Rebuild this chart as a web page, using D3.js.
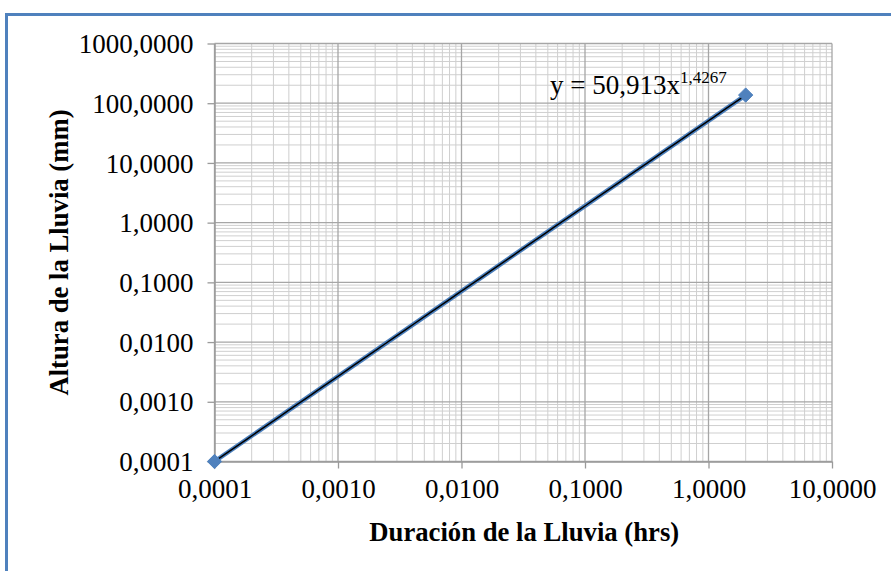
<!DOCTYPE html>
<html>
<head>
<meta charset="utf-8">
<script src="https://cdn.jsdelivr.net/npm/d3@7"></script>
<style>
  html, body { margin: 0; padding: 0; background: #fff; }
  svg { display: block; }
  text { font-family: "Liberation Serif", "Times New Roman", serif; fill: #000; }
</style>
</head>
<body>
<svg id="chart" width="891" height="571"></svg>
<script>
// Duración (hrs) vs. altura de lluvia (mm)
const duracion = [0.0001, 2];
const altura = [0.0001, 136.9];

// Ajuste potencial y = a·x^b
const coefA = 50.913;
const expB = 1.4267;
const coefALabel = "50,913";
const expBLabel = "1,4267";

const xTickValues = [0.0001, 0.001, 0.01, 0.1, 1, 10];
const xTickLabels = ["0,0001", "0,0010", "0,0100", "0,1000", "1,0000", "10,0000"];
const yTickValues = [0.0001, 0.001, 0.01, 0.1, 1, 10, 100, 1000];
const yTickLabels = ["0,0001", "0,0010", "0,0100", "0,1000", "1,0000", "10,0000", "100,0000", "1000,0000"];

const xTitle = "Duración de la Lluvia (hrs)";
const yTitle = "Altura de la Lluvia (mm)";

const svg = d3.select("#chart");
const W = 891, H = 571;
const plot = { left: 214.5, right: 832, top: 43.5, bottom: 461.5 };
const serif = "'Liberation Serif', 'Times New Roman', serif";

// Marco del gráfico
svg.append("rect")
  .attr("x", 6.5).attr("y", 14.5)
  .attr("width", W + 20).attr("height", H + 20)
  .attr("fill", "none")
  .attr("stroke", "#4f81bd")
  .attr("stroke-width", 3);

const x = d3.scaleLog().domain([0.0001, 10]).range([plot.left, plot.right]);
const y = d3.scaleLog().domain([0.0001, 1000]).range([plot.bottom, plot.top]);

// Valores de cuadrícula secundaria (2..9 de cada década)
function minorValues(domain) {
  const out = [];
  const lo = Math.round(Math.log10(domain[0]));
  const hi = Math.round(Math.log10(domain[1]));
  for (let e = lo; e < hi; e++) {
    for (let m = 2; m <= 9; m++) out.push(m * Math.pow(10, e));
  }
  return out;
}

const grid = svg.append("g");
grid.selectAll("line.mx").data(minorValues(x.domain())).join("line")
  .attr("x1", d => x(d)).attr("x2", d => x(d))
  .attr("y1", plot.top).attr("y2", plot.bottom)
  .attr("stroke", "#cfcfcf").attr("stroke-width", 1);
grid.selectAll("line.my").data(minorValues(y.domain())).join("line")
  .attr("x1", plot.left).attr("x2", plot.right)
  .attr("y1", d => y(d)).attr("y2", d => y(d))
  .attr("stroke", "#cfcfcf").attr("stroke-width", 1);
grid.selectAll("line.Mx").data(xTickValues).join("line")
  .attr("x1", d => x(d)).attr("x2", d => x(d))
  .attr("y1", plot.top).attr("y2", plot.bottom)
  .attr("stroke", "#a6a6a6").attr("stroke-width", 1.3);
grid.selectAll("line.My").data(yTickValues).join("line")
  .attr("x1", plot.left).attr("x2", plot.right)
  .attr("y1", d => y(d)).attr("y2", d => y(d))
  .attr("stroke", "#a6a6a6").attr("stroke-width", 1.3);

// Ejes
const xAxis = d3.axisBottom(x).tickValues(xTickValues)
  .tickFormat((d, i) => xTickLabels[i]).tickSize(7).tickSizeOuter(0).tickPadding(10);
const yAxis = d3.axisLeft(y).tickValues(yTickValues)
  .tickFormat((d, i) => yTickLabels[i]).tickSize(7).tickSizeOuter(0).tickPadding(14);

const gx = svg.append("g").attr("transform", `translate(0,${plot.bottom})`).call(xAxis);
const gy = svg.append("g").attr("transform", `translate(${plot.left},0)`).call(yAxis);
[gx, gy].forEach(g => {
  g.attr("font-family", serif);
  g.select(".domain").attr("stroke", "#9a9a9a").attr("stroke-width", 1.5);
  g.selectAll(".tick line").attr("stroke", "#9a9a9a").attr("stroke-width", 1.3);
  g.selectAll(".tick text")
    .style("font-family", serif)
    .style("font-size", "27px").attr("fill", "#000");
});
gy.selectAll(".tick text").attr("dy", "0.34em");

// Serie de datos
const pts = duracion.map((d, i) => [d, altura[i]]);
svg.append("path")
  .datum(pts)
  .attr("d", d3.line().x(d => x(d[0])).y(d => y(d[1])))
  .attr("fill", "none")
  .attr("stroke", "#4a7ebb")
  .attr("stroke-width", 4.5);

// Línea de tendencia potencial
const xmin = d3.min(duracion), xmax = d3.max(duracion);
const trend = d3.range(0, 51).map(i => {
  const xv = Math.pow(10, Math.log10(xmin) + i / 50 * (Math.log10(xmax) - Math.log10(xmin)));
  return [xv, coefA * Math.pow(xv, expB)];
});
svg.append("path")
  .datum(trend)
  .attr("d", d3.line().x(d => x(d[0])).y(d => y(d[1])))
  .attr("fill", "none")
  .attr("stroke", "#000")
  .attr("stroke-width", 1.5);

// Marcadores rombo
svg.selectAll("path.marker").data(pts).join("path")
  .attr("class", "marker")
  .attr("transform", d => `translate(${x(d[0])},${y(d[1])})`)
  .attr("d", d3.symbol().type(d3.symbolDiamond2).size(130))
  .attr("fill", "#4f81bd")
  .attr("stroke", "#4f81bd")
  .attr("stroke-width", 1);

// Ecuación
const eq = svg.append("text")
  .attr("x", 550).attr("y", 94)
  .style("font-family", serif)
  .style("font-size", "27px");
eq.append("tspan").text(`y = ${coefALabel}x`);
eq.append("tspan").attr("dy", -11).style("font-size", "17px").text(expBLabel);

// Títulos de ejes
svg.append("text")
  .attr("x", (plot.left + plot.right) / 2 + 1)
  .attr("y", 541)
  .attr("text-anchor", "middle")
  .style("font-family", serif)
  .style("font-size", "26.7px").style("font-weight", "bold")
  .text(xTitle);

svg.append("text")
  .attr("transform", `translate(68,${(plot.top + plot.bottom) / 2}) rotate(-90)`)
  .attr("text-anchor", "middle")
  .style("font-family", serif)
  .style("font-size", "26.7px").style("font-weight", "bold")
  .text(yTitle);
</script>
</body>
</html>
